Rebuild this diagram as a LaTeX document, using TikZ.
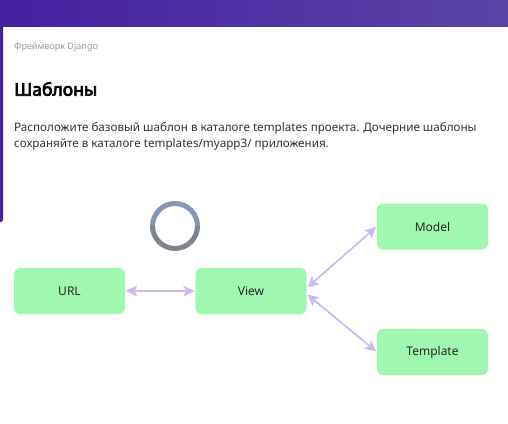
\documentclass[tikz,border=0pt]{standalone}
\usepackage{fontspec}
\setmainfont{Noto Sans}
\newfontfamily\titlefont{Noto Sans}[FakeBold=4]
\usetikzlibrary{arrows.meta}
\definecolor{hdrL}{HTML}{4420A0}
\definecolor{hdrR}{HTML}{5A44A6}
\definecolor{boxgreen}{HTML}{A0F8B0}
\definecolor{arrowlav}{HTML}{D2B8F0}
\definecolor{ringblue}{HTML}{8597B6}
\definecolor{ringgrey}{HTML}{7F838B}
\definecolor{subgrey}{HTML}{999999}
\definecolor{bodytext}{HTML}{333333}
\tikzset{
  box/.style={fill=boxgreen, rounded corners=6pt, minimum width=111pt, minimum height=46pt, inner sep=0pt, font=\fontsize{12}{14}\selectfont, text=black!85},
  link/.style={draw=arrowlav, line width=1.7pt, {Stealth[length=11pt,width=11pt,inset=2.5pt]}-{Stealth[length=11pt,width=11pt,inset=2.5pt]}, shorten <=1pt, shorten >=1pt}
}
\begin{document}
\begin{tikzpicture}[x=1pt,y=-1pt]
\useasboundingbox (0,0) rectangle (508,423);
\fill[white] (0,0) rectangle (508,423);
% header band
\shade[left color=hdrL, right color=hdrR] (0,0) rectangle (508,26);
% left stripe
\fill[hdrL, rounded corners=2.5pt] (-5,20) rectangle (3,222);
% texts
\node[anchor=west, text=subgrey, font=\fontsize{9}{11}\selectfont, inner sep=0pt] (sub) at (14,47) {Фреймворк Django};
\node[anchor=west, text=black, font=\fontsize{17.5}{20}\selectfont\titlefont, inner sep=0pt] (title) at (14,89) {Шаблоны};
\node[anchor=north west, text=bodytext, font=\fontsize{11.65}{16.3}\selectfont, align=left, inner sep=0pt] (body) at (14,122)
  {Расположите базовый шаблон в каталоге templates проекта. Дочерние шаблоны\\сохраняйте в каталоге templates/myapp3/ приложения.};
% ring
\draw[ringgrey, line width=5pt] (175,226) ++(0:22.5) arc[start angle=0, end angle=180, radius=22.5];
\draw[ringblue, line width=5pt] (175,226) ++(0:22.5) arc[start angle=0, end angle=-180, radius=22.5];
% boxes
\node[box] (url) at (69.5,291) {URL};
\node[box] (view) at (251,291) {View};
\node[box] (model) at (432.5,226.5) {Model};
\node[box] (tmpl) at (432.5,352) {Template};
% links
\draw[link] (url.east) -- (view.west);
\draw[link] ([yshift=3pt]view.east) -- (model.west);
\draw[link] ([yshift=-3pt]view.east) -- (tmpl.west);
\end{tikzpicture}
\end{document}
